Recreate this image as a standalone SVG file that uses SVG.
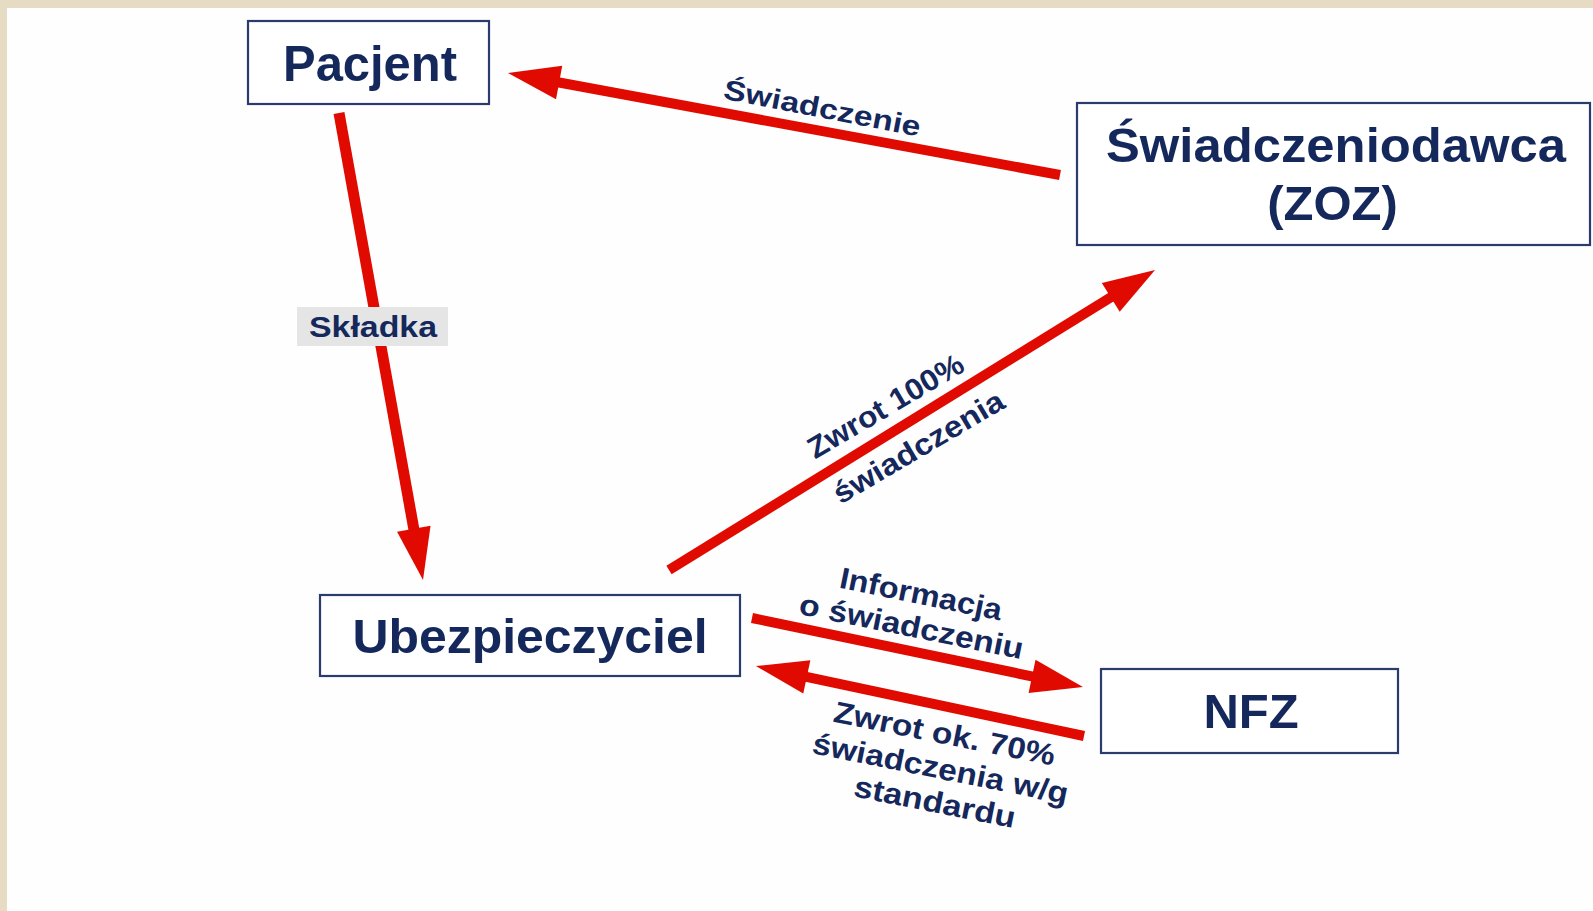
<svg xmlns="http://www.w3.org/2000/svg" width="1593" height="911" viewBox="0 0 1593 911">
<style>
.box{fill:#ffffff;stroke:#2a3b6e;stroke-width:2.2}
.nt{font-family:"Liberation Sans",Arial,sans-serif;font-weight:bold;fill:#15285c;text-anchor:middle}
.lb{font-family:"Liberation Sans",Arial,sans-serif;font-weight:bold;fill:#15285c;text-anchor:middle;font-size:30px}
.ar{stroke:#e00a00;stroke-width:10;fill:none;marker-end:url(#head)}
</style>
<defs>
<marker id="head" markerUnits="userSpaceOnUse" markerWidth="52" markerHeight="34" refX="22" refY="17" orient="auto" overflow="visible">
<path d="M0,0 L52,17 L0,34 Z" fill="#e00a00"/>
</marker>
</defs>
<rect x="0" y="0" width="1593" height="911" fill="#e6dcc3"/>
<rect x="7" y="8" width="1586" height="903" fill="#fefefe"/>

<g id="connectors">
<line class="ar" x1="1060" y1="175" x2="537.5" y2="78.5"/>
<line class="ar" style="stroke-width:11" x1="339" y1="113" x2="417.7" y2="550.5"/>
<line class="ar" x1="669" y1="570" x2="1129.5" y2="285.8"/>
<line class="ar" x1="752" y1="618" x2="1053.6" y2="680.9"/>
<line class="ar" x1="1084" y1="736" x2="785.3" y2="672.3"/>

<text class="lb" style="font-size:28px" textLength="200" lengthAdjust="spacingAndGlyphs" transform="translate(820.5,117.5) rotate(11)">Świadczenie</text>

<rect x="297" y="307" width="151" height="39" fill="#e5e5e5"/>
<text class="nt" x="373" y="337" font-size="30" textLength="128" lengthAdjust="spacingAndGlyphs">Składka</text>

<g transform="translate(890.7,414.9) rotate(-30.5)">
<text class="lb" x="0" y="0" textLength="176" lengthAdjust="spacingAndGlyphs">Zwrot 100%</text>
<text class="lb" x="7.7" y="52" textLength="193" lengthAdjust="spacingAndGlyphs">świadczenia</text>
</g>

<g transform="translate(919,604) rotate(11.5)">
<text class="lb" x="0" y="0" textLength="165" lengthAdjust="spacingAndGlyphs">Informacja</text>
<text class="lb" x="-2.8" y="33.7" textLength="228" lengthAdjust="spacingAndGlyphs">o świadczeniu</text>
</g>

<g transform="translate(942.5,743.6) rotate(11.3)">
<text class="lb" x="0" y="0" textLength="225" lengthAdjust="spacingAndGlyphs">Zwrot ok. 70%</text>
<text class="lb" x="3" y="35" textLength="260" lengthAdjust="spacingAndGlyphs">świadczenia w/g</text>
<text class="lb" x="4" y="69" textLength="164" lengthAdjust="spacingAndGlyphs">standardu</text>
</g>
</g>

<g id="pacjent">
<rect class="box" x="248" y="21" width="241" height="83"/>
<text class="nt" x="370" y="81" font-size="50" textLength="174" lengthAdjust="spacingAndGlyphs">Pacjent</text>
</g>

<g id="swiadczeniodawca">
<rect class="box" x="1077" y="103" width="513" height="142"/>
<text class="nt" x="1336" y="162" font-size="49" textLength="460" lengthAdjust="spacingAndGlyphs">Świadczeniodawca</text>
<text class="nt" x="1332.5" y="220" font-size="49">(ZOZ)</text>
</g>

<g id="ubezpieczyciel">
<rect class="box" x="320" y="595" width="420" height="81"/>
<text class="nt" x="530" y="653" font-size="48" textLength="355" lengthAdjust="spacingAndGlyphs">Ubezpieczyciel</text>
</g>

<g id="nfz">
<rect class="box" x="1101" y="669" width="297" height="84"/>
<text class="nt" x="1251" y="728" font-size="49">NFZ</text>
</g>
</svg>
